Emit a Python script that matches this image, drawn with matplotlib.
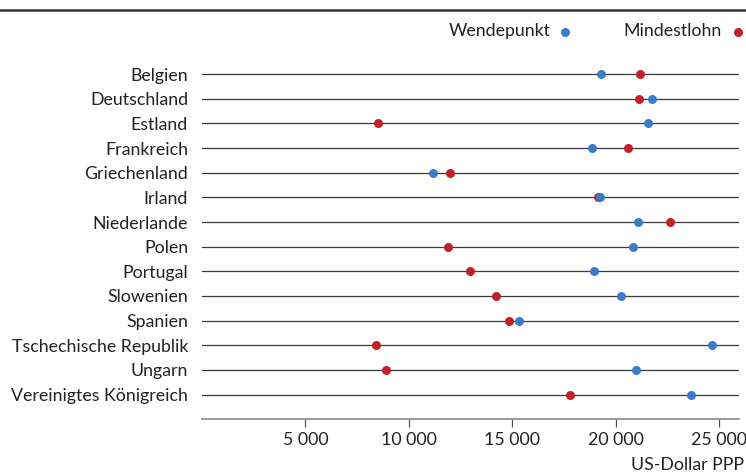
import matplotlib.pyplot as plt

plt.rcParams['font.family'] = ['Lato', 'DejaVu Sans']

countries = ['Belgien', 'Deutschland', 'Estland', 'Frankreich', 'Griechenland',
             'Irland', 'Niederlande', 'Polen', 'Portugal', 'Slowenien', 'Spanien',
             'Tschechische Republik', 'Ungarn', 'Vereinigtes Königreich']
# Wendepunkt (blau) und Mindestlohn (rot), US-Dollar PPP
wendepunkt = [19300, 21750, 21550, 18850, 11150, 19250, 21050,
              20850, 18950, 20250, 15300, 24650, 20950, 23650]
mindestlohn = [21150, 21100, 8500, 20600, 12000, 19150, 22600,
               11900, 12950, 14200, 14850, 8400, 8900, 17800]
xticks = [5000, 10000, 15000, 20000, 25000]

blue = '#3a7cc8'
red = '#c2202a'
fs = 12.8

fig = plt.figure(figsize=(7.46, 4.74), dpi=100)
ax = fig.add_axes([202 / 746, 1 - 419.3 / 474, (739 - 202) / 746, (419.3 - 49.4) / 474])

ys = list(range(len(countries)))
for y in ys:
    ax.axhline(y, color='#3a3a3a', lw=0.9, zorder=1)

ax.scatter(mindestlohn, ys, s=42, color=red, zorder=3, linewidths=0)
ax.scatter(wendepunkt, ys, s=42, color=blue, zorder=4, linewidths=0)

ax.set_xlim(0, 25950)
ax.set_ylim(len(countries), -1)
ax.set_yticks(ys)
ax.set_yticklabels(countries, fontsize=fs, color='#222222')
ax.tick_params(axis='y', length=0, pad=10)
ax.set_xticks(xticks)
ax.set_xticklabels([f'{t:,}'.replace(',', ' ') for t in xticks], fontsize=fs, color='#222222')
ax.tick_params(axis='x', length=6, width=0.9, color='#555555', pad=3, direction='out')

for s in ['top', 'right', 'left']:
    ax.spines[s].set_visible(False)
ax.spines['bottom'].set_color('#888888')
ax.spines['bottom'].set_linewidth(1.2)

fig.text(744 / 746, 1 - 465 / 474, 'US-Dollar PPP', ha='right', va='center',
         fontsize=fs, color='#222222')

# Legende oben rechts
fig.text(551 / 746, 1 - 31 / 474, 'Wendepunkt', ha='right', va='center',
         fontsize=fs, color='#222222')
fig.text(722 / 746, 1 - 31 / 474, 'Mindestlohn', ha='right', va='center',
         fontsize=fs, color='#222222')
fig.lines.append(plt.Line2D([565 / 746], [1 - 32 / 474], marker='o', ms=6.5,
                            color=blue, mew=0, transform=fig.transFigure))
fig.lines.append(plt.Line2D([738 / 746], [1 - 32 / 474], marker='o', ms=6.5,
                            color=red, mew=0, transform=fig.transFigure))

# Trennlinie oben
fig.lines.append(plt.Line2D([0, 1], [1 - 10 / 474, 1 - 10 / 474], color='#333333',
                            lw=1.8, transform=fig.transFigure))

fig.savefig('out.png', dpi=100)
